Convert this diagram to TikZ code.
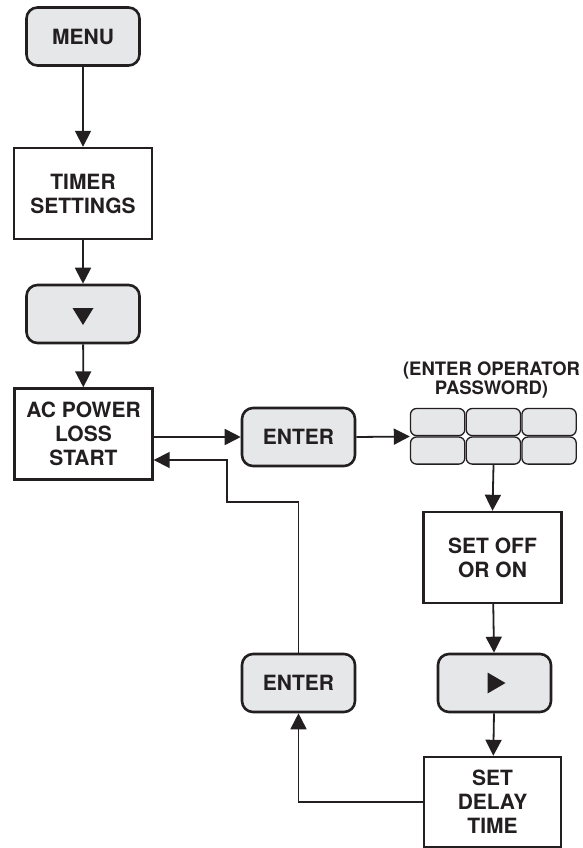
\documentclass[tikz,border=0pt]{standalone}
\usepackage{fontspec}
\setmainfont{TeX Gyre Heros}
\usepackage{xcolor}
\usepackage{tikz}
\usetikzlibrary{arrows.meta,calc,positioning}
\definecolor{ink}{HTML}{231F20}
\definecolor{keyfill}{HTML}{E6E7E8}

\begin{document}
\begin{tikzpicture}[x=1pt,y=-1pt,>={Triangle[width=16pt,length=16pt]},
  font=\fontsize{21}{24}\selectfont\bfseries,
  infobox/.style={draw=ink,line width=2.4pt,fill=white,align=center,inner sep=0pt,
    minimum width=138pt,minimum height=91pt,text=ink},
  keybtn/.style={draw=ink,line width=2.6pt,fill=keyfill,rounded corners=11pt,align=center,
    inner sep=0pt,minimum width=113pt,minimum height=58pt,text=ink},
  padkey/.style={draw=ink,line width=1.3pt,fill=keyfill,rounded corners=6pt},
  link/.style={->,draw=ink,line width=1.8pt}]
\useasboundingbox (0,0) rectangle (582,848);
% left column
\node[keybtn] (menu) at (83,36.5) {MENU};
\node[infobox] (timer) at (83,193.5) {TIMER\\SETTINGS};
\node[keybtn] (down) at (83,314) {};
\fill[ink] ($(down.center)+(-10.5,-6)$) -- ++(21,0) -- ++(-10.5,17) -- cycle;
\node[infobox] (ac) at (83.5,434) {AC POWER\\LOSS\\START};
% top row
\node[keybtn] (enter) at (298.5,437) {ENTER};
\node[minimum width=167pt,minimum height=57pt,inner sep=0pt] (pad) at (493.5,436.5) {};
\foreach \c in {0,1,2}
  \foreach \r in {0,1}
    \draw[padkey] ($(pad.north west)+(\c*55.7+0.7,\r*28.5+0.7)$) rectangle ++(54.3,27.1);
\node[font=\fontsize{18.5}{17}\selectfont\bfseries,align=center,text=ink] (pwd) at (491.5,380) {(ENTER OPERATOR\\PASSWORD)};
% right column
\node[infobox] (onoff) at (492.5,557.5) {SET OFF\\OR ON};
\node[keybtn] (right) at (494.5,683) {};
\fill[ink] ($(right.center)+(-7,-10.5)$) -- ++(0,21) -- ++(18,-10.5) -- cycle;
\node[infobox,minimum width=137pt,minimum height=90pt] (delay) at (492.5,802) {SET\\DELAY\\TIME};
\node[keybtn] (enterback) at (298.5,683) {ENTER};
\coordinate (bend) at (227,502);
% connectors
\draw[link] (menu) -- (timer);
\draw[link] (timer) -- (down);
\draw[link] (down) -- (ac);
\draw[link] (ac.east |- enter.west) -- (enter.west);
\draw[link] (enter.east) -- (pad.west);
\draw[link] (pad.south) -- (onoff.north);
\draw[link] (onoff) -- (right);
\draw[link] (right) -- (delay);
\draw[link] (delay.west) -| (enterback.south);
\draw[link] (enterback.north) |- (bend) |- ($(ac.east)+(0,26)$);
\end{tikzpicture}
\end{document}
